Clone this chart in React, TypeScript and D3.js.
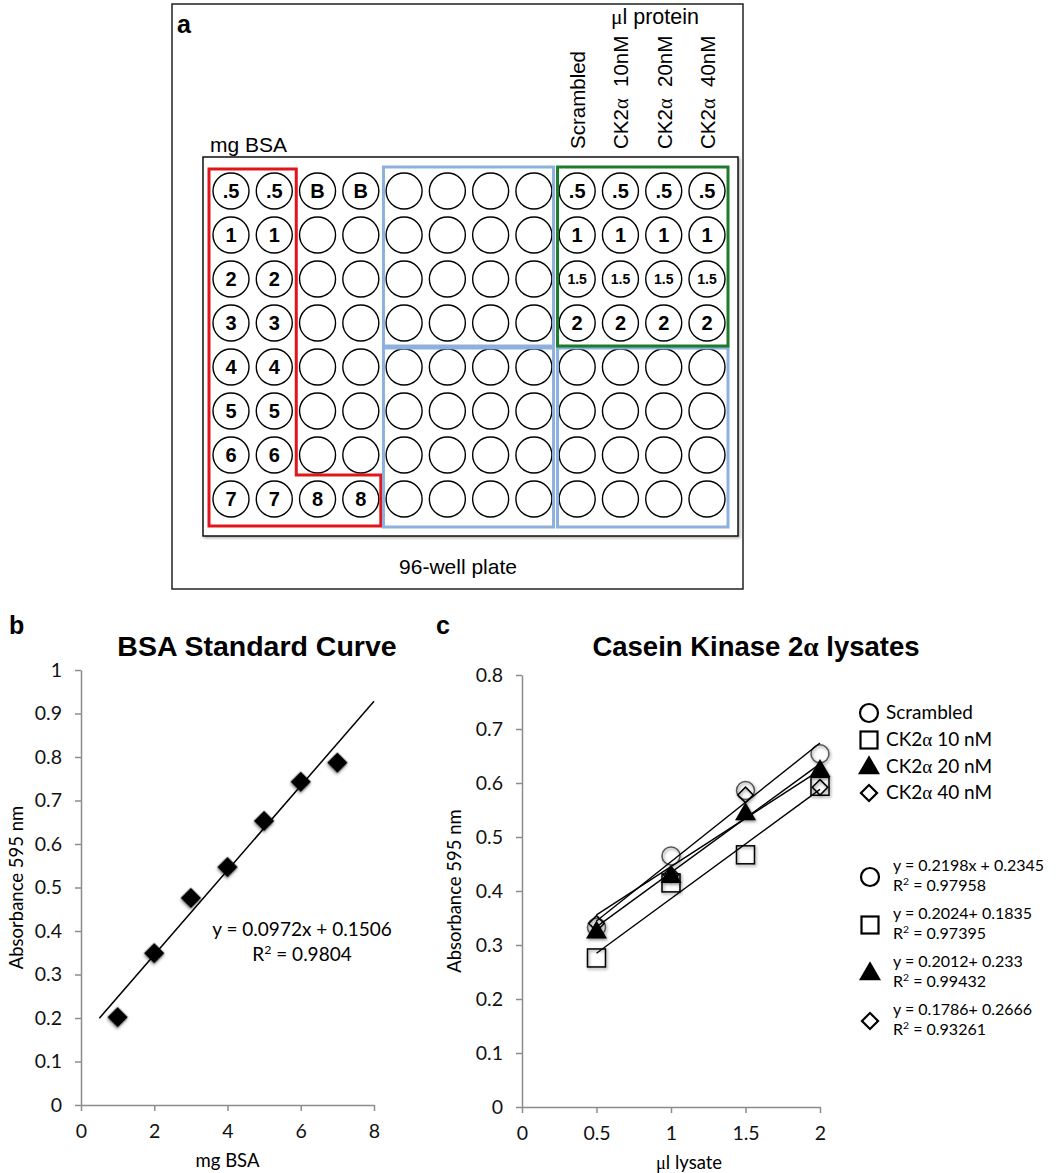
import { useEffect, useRef } from "react";
import * as d3 from "d3";

const W = 1059;
const H = 1173;
const ARIAL = "'Liberation Sans', Arial, sans-serif";
const CALIBRI = "Lato, 'Open Sans', sans-serif";
const SERIF = "'Liberation Serif', 'DejaVu Serif', serif";

// panel a: 96-well plate layout
const plateRows = 8;
const plateCols = 12;
const bsaWellLabels = [".5", "1", "2", "3", "4", "5", "6", "7"];
const blankWellLabels = ["B", "", "", "", "", "", "", "8"];
const sampleWellLabels = [".5", "1", "1.5", "2"];
const sampleHeaders = ["Scrambled", "CK2α  10nM", "CK2α  20nM", "CK2α  40nM"];

// panel b: BSA standard curve
const bsaMg = [1, 2, 3, 4, 5, 6, 7];
const bsaAbs = [0.202, 0.349, 0.476, 0.547, 0.653, 0.743, 0.787];
const bsaFitSlope = 0.0972;
const bsaFitIntercept = 0.1506;
const bsaFitR2 = "0.9804";
const bsaFitRange = [0.5, 8];
const bsaXTicks = [0, 2, 4, 6, 8];

// panel c: CK2a lysates
const lysateUl = [0.5, 1, 1.5, 2];
const scrambledAbs = [0.333, 0.465, 0.586, 0.654];
const ck10Abs = [0.276, 0.415, 0.467, 0.594];
const ck20Abs = [0.325, 0.428, 0.544, 0.624];
const ck40Abs = [0.34, 0.43, 0.578, 0.592];
const lysateSeries = [scrambledAbs, ck10Abs, ck20Abs, ck40Abs];
const seriesNames = ["Scrambled", "CK2α 10 nM", "CK2α 20 nM", "CK2α 40 nM"];
const fitSlopes = [0.2198, 0.2024, 0.2012, 0.1786];
const fitIntercepts = [0.2345, 0.1835, 0.233, 0.2666];
const fitEquations = ["y = 0.2198x + 0.2345", "y = 0.2024+ 0.1835", "y = 0.2012+ 0.233", "y = 0.1786+ 0.2666"];
const fitR2 = ["0.97958", "0.97395", "0.99432", "0.93261"];
const lysateXTicks = [0, 0.5, 1, 1.5, 2];

// writes a string, putting greek letters in a serif face like the original
function richText(sel: any, str: string) {
  sel.style("white-space", "pre");
  str.split(/([αμ])/).forEach((part) => {
    if (!part) return;
    const t = sel.append("tspan").text(part);
    if (part === "α" || part === "μ") t.attr("font-family", SERIF);
  });
  return sel;
}

// "R2 = value" with a raised 2
function r2Text(sel: any, value: string, size: number) {
  sel.append("tspan").text("R");
  sel.append("tspan").attr("dy", -size * 0.38).attr("font-size", size * 0.65).text("2");
  sel.append("tspan").attr("dy", size * 0.38).text(` = ${value}`);
  return sel;
}

function styleAxis(g: any) {
  g.selectAll("path.domain").attr("stroke", "#8c8c8c").attr("stroke-width", 1.5);
  g.selectAll(".tick line").attr("stroke", "#8c8c8c").attr("stroke-width", 1.5);
  g.selectAll(".tick text").attr("fill", "#111").attr("font-family", CALIBRI).attr("font-size", 19.5);
  g.attr("font-family", CALIBRI);
}

// marker shapes, centred on px,py
function addMarker(g: any, kind: number, px: number, py: number, legend = false) {
  const sw = legend ? 2.2 : 1.5;
  if (kind === 0) {
    g.append("circle").attr("cx", px).attr("cy", py).attr("r", 9)
      .attr("fill", "none").attr("stroke", legend ? "#000" : "#555").attr("stroke-width", sw);
  } else if (kind === 1) {
    const s = legend ? 17 : 18;
    g.append("rect").attr("x", px - s / 2).attr("y", py - s / 2).attr("width", s).attr("height", s)
      .attr("fill", "none").attr("stroke", "#000").attr("stroke-width", sw);
  } else if (kind === 2) {
    g.append("path").attr("d", d3.symbol().type(d3.symbolTriangle).size(legend ? 210 : 190)())
      .attr("transform", `translate(${px},${py + 1})`).attr("fill", "#000");
  } else {
    g.append("path").attr("d", d3.symbol().type(d3.symbolSquare).size(legend ? 130 : 120)())
      .attr("transform", `translate(${px},${py}) rotate(45)`)
      .attr("fill", "none").attr("stroke", "#000").attr("stroke-width", sw);
  }
}

function drawPlate(svg: any) {
  const g = svg.append("g");
  g.append("rect").attr("x", 172).attr("y", 4).attr("width", 571).attr("height", 585)
    .attr("fill", "none").attr("stroke", "#222").attr("stroke-width", 1.5);
  g.append("text").attr("x", 177).attr("y", 33).attr("font-family", ARIAL)
    .attr("font-weight", "bold").attr("font-size", 25).text("a");

  const col = d3.scaleLinear().domain([0, plateCols - 1]).range([231, 707]);
  const row = d3.scaleLinear().domain([0, plateRows - 1]).range([191, 499]);
  const last = plateCols - 1;
  const lastRow = plateRows - 1;

  // plate outline
  g.append("rect")
    .attr("x", col(0) - 28).attr("y", row(0) - 34)
    .attr("width", col(last) + 31 - (col(0) - 28))
    .attr("height", row(lastRow) + 37 - (row(0) - 34))
    .attr("fill", "#fff").attr("stroke", "#111").attr("stroke-width", 1.5)
    .attr("filter", "url(#soft)");

  // wells
  for (let r = 0; r < plateRows; r++) {
    for (let c = 0; c < plateCols; c++) {
      g.append("circle").attr("cx", col(c)).attr("cy", row(r)).attr("r", 18)
        .attr("fill", "#fff").attr("stroke", "#000").attr("stroke-width", 1.4);
      let label = "";
      if (c < 2) label = bsaWellLabels[r];
      else if (c < 4) label = blankWellLabels[r];
      else if (c >= 8 && r < sampleWellLabels.length) label = sampleWellLabels[r];
      if (label) {
        g.append("text").attr("x", col(c)).attr("y", row(r)).attr("dy", "0.36em")
          .attr("text-anchor", "middle").attr("font-family", ARIAL).attr("font-weight", "bold")
          .attr("font-size", label.length > 2 ? 14 : 20).text(label);
      }
    }
  }

  const midX = (a: number) => (col(a) + col(a + 1)) / 2;
  const boxes = g.append("g").attr("fill", "none").attr("stroke-width", 3);

  // BSA standards (red, stepped outline)
  const top = row(0) - 22;
  const bottom = row(lastRow) + 27;
  const step = row(6) + 20;
  const redPts: [number, number][] = [
    [col(0) - 22, top], [col(1) + 22, top], [col(1) + 22, step],
    [col(3) + 20, step], [col(3) + 20, bottom], [col(0) - 22, bottom],
  ];
  boxes.append("path").attr("d", d3.line()(redPts) + "Z").attr("stroke", "#e3151c");

  // empty wells (blue) and samples (green)
  const bTop = row(0) - 24;
  const bBottom = row(lastRow) + 28;
  const splitA = row(3) + 23;
  const splitB = row(4) - 19;
  const blue = "#8db1dc";
  boxes.append("rect").attr("x", midX(3) + 1).attr("y", bTop)
    .attr("width", midX(7) - 2 - midX(3) - 1).attr("height", splitA - bTop).attr("stroke", blue);
  boxes.append("rect").attr("x", midX(3) + 1).attr("y", splitB)
    .attr("width", midX(7) - 2 - midX(3) - 1).attr("height", bBottom - splitB).attr("stroke", blue);
  boxes.append("rect").attr("x", midX(7) + 2).attr("y", splitB)
    .attr("width", col(last) + 21 - midX(7) - 2).attr("height", bBottom - splitB).attr("stroke", blue);
  boxes.append("rect").attr("x", midX(7) + 2).attr("y", bTop)
    .attr("width", col(last) + 21 - midX(7) - 2).attr("height", splitA - bTop).attr("stroke", "#1e7b2b");

  // column headers
  sampleHeaders.forEach((h, i) => {
    const t = g.append("text")
      .attr("transform", `translate(${col(8 + i) + 8},149) rotate(-90)`)
      .attr("font-family", ARIAL).attr("font-size", 20.5);
    richText(t, h);
  });
  richText(g.append("text").attr("x", 699).attr("y", 24).attr("text-anchor", "end")
    .attr("font-family", ARIAL).attr("font-size", 21.5), "μl protein");
  g.append("text").attr("x", 210).attr("y", 152).attr("font-family", ARIAL).attr("font-size", 21).text("mg BSA");
  g.append("text").attr("x", 458).attr("y", 574).attr("text-anchor", "middle")
    .attr("font-family", ARIAL).attr("font-size", 21).text("96-well plate");
}

function drawBsa(svg: any) {
  const g = svg.append("g");
  const x = d3.scaleLinear().domain([0, 8]).range([81, 374]);
  const y = d3.scaleLinear().domain([0, 1]).range([1105, 670]);

  g.append("text").attr("x", 9).attr("y", 634).attr("font-family", ARIAL)
    .attr("font-weight", "bold").attr("font-size", 25).text("b");
  g.append("text").attr("x", 257).attr("y", 656).attr("text-anchor", "middle")
    .attr("font-family", ARIAL).attr("font-weight", "bold").attr("font-size", 28.5).text("BSA Standard Curve");

  const xa = g.append("g").attr("transform", `translate(0,${y(0)})`)
    .call(d3.axisBottom(x).tickValues(bsaXTicks).tickSize(6).tickSizeOuter(0).tickPadding(13).tickFormat(d3.format("~g")));
  styleAxis(xa);
  const ya = g.append("g").attr("transform", `translate(${x(0)},0)`)
    .call(d3.axisLeft(y).ticks(10).tickSize(6).tickSizeOuter(0).tickPadding(13).tickFormat(d3.format("~g")));
  styleAxis(ya);

  g.append("text").attr("x", (x(0) + x(8)) / 2).attr("y", 1167).attr("text-anchor", "middle")
    .attr("font-family", CALIBRI).attr("font-size", 18.5).text("mg BSA");
  g.append("text").attr("transform", `translate(23,${(y(0) + y(1)) / 2}) rotate(-90)`)
    .attr("text-anchor", "middle").attr("font-family", CALIBRI).attr("font-size", 18.5).text("Absorbance 595 nm");

  const pts = bsaMg.map((m, i) => [m, bsaAbs[i]]);
  g.selectAll("path.pt").data(pts).enter().append("path")
    .attr("class", "pt")
    .attr("d", d3.symbol().type(d3.symbolSquare).size(210)())
    .attr("transform", (d: number[]) => `translate(${x(d[0])},${y(d[1])}) rotate(45)`)
    .attr("fill", "#000").attr("filter", "url(#shadow)");

  const fit = bsaFitRange.map((v) => [v, bsaFitSlope * v + bsaFitIntercept]);
  g.append("path").datum(fit)
    .attr("d", d3.line().x((d: number[]) => x(d[0])).y((d: number[]) => y(d[1])))
    .attr("fill", "none").attr("stroke", "#000").attr("stroke-width", 1.5);

  g.append("text").attr("x", 302).attr("y", 936).attr("text-anchor", "middle")
    .attr("font-family", CALIBRI).attr("font-size", 19).text(`y = ${bsaFitSlope}x + ${bsaFitIntercept}`);
  r2Text(g.append("text").attr("x", 302).attr("y", 961).attr("text-anchor", "middle")
    .attr("font-family", CALIBRI).attr("font-size", 19), bsaFitR2, 19);
}

function drawLysate(svg: any) {
  const g = svg.append("g");
  const x = d3.scaleLinear().domain([0, 2]).range([522, 820]);
  const y = d3.scaleLinear().domain([0, 0.8]).range([1107, 675]);

  g.append("text").attr("x", 436).attr("y", 634).attr("font-family", ARIAL)
    .attr("font-weight", "bold").attr("font-size", 25).text("c");
  richText(g.append("text").attr("x", 756).attr("y", 656).attr("text-anchor", "middle")
    .attr("font-family", ARIAL).attr("font-weight", "bold").attr("font-size", 27.5), "Casein Kinase 2α lysates");

  const xa = g.append("g").attr("transform", `translate(0,${y(0)})`)
    .call(d3.axisBottom(x).tickValues(lysateXTicks).tickSize(6).tickSizeOuter(0).tickPadding(13).tickFormat(d3.format("~g")));
  styleAxis(xa);
  const ya = g.append("g").attr("transform", `translate(${x(0)},0)`)
    .call(d3.axisLeft(y).ticks(8).tickSize(6).tickSizeOuter(0).tickPadding(13).tickFormat(d3.format("~g")));
  styleAxis(ya);

  richText(g.append("text").attr("x", 689).attr("y", 1169).attr("text-anchor", "middle")
    .attr("font-family", CALIBRI).attr("font-size", 18.5), "μl lysate");
  g.append("text").attr("transform", `translate(461,${(y(0) + y(0.8)) / 2}) rotate(-90)`)
    .attr("text-anchor", "middle").attr("font-family", CALIBRI).attr("font-size", 18.5).text("Absorbance 595 nm");

  // points
  const marks = g.append("g").attr("filter", "url(#shadow)");
  lysateSeries.forEach((vals, k) => {
    vals.forEach((v, i) => addMarker(marks, k, x(lysateUl[i]), y(v)));
  });

  // linear fits from the printed equations
  fitSlopes.forEach((m, k) => {
    const seg = [lysateUl[0], lysateUl[lysateUl.length - 1]].map((v) => [v, m * v + fitIntercepts[k]]);
    g.append("path").datum(seg)
      .attr("d", d3.line().x((d: number[]) => x(d[0])).y((d: number[]) => y(d[1])))
      .attr("fill", "none").attr("stroke", "#000").attr("stroke-width", 1.4);
  });

  // legend
  const legY = [713, 740, 767, 793];
  seriesNames.forEach((name, k) => {
    addMarker(g, k, 869, legY[k], true);
    richText(g.append("text").attr("x", 886).attr("y", legY[k] + 6)
      .attr("font-family", CALIBRI).attr("font-size", 19), name);
  });

  // fit equations
  const eqY = [868, 916, 964, 1012];
  fitEquations.forEach((eq, k) => {
    addMarker(g, k, 870, eqY[k] + 9, true);
    g.append("text").attr("x", 893).attr("y", eqY[k] + 3)
      .attr("font-family", CALIBRI).attr("font-size", 16).text(eq);
    r2Text(g.append("text").attr("x", 893).attr("y", eqY[k] + 23)
      .attr("font-family", CALIBRI).attr("font-size", 16), fitR2[k], 16);
  });
}

export default function App() {
  const svgRef = useRef<SVGSVGElement>(null);

  useEffect(() => {
    const svg = d3.select(svgRef.current);
    svg.selectAll("*").remove();

    const defs = svg.append("defs");
    const sh = defs.append("filter").attr("id", "shadow")
      .attr("x", "-50%").attr("y", "-50%").attr("width", "200%").attr("height", "200%");
    sh.append("feDropShadow").attr("dx", 1).attr("dy", 1.5).attr("stdDeviation", 1.4)
      .attr("flood-color", "#000").attr("flood-opacity", 0.45);
    const soft = defs.append("filter").attr("id", "soft")
      .attr("x", "-5%").attr("y", "-5%").attr("width", "110%").attr("height", "110%");
    soft.append("feDropShadow").attr("dx", 1.5).attr("dy", 1.5).attr("stdDeviation", 1)
      .attr("flood-color", "#000").attr("flood-opacity", 0.3);

    drawPlate(svg);
    drawBsa(svg);
    drawLysate(svg);
  }, []);

  return (
    <svg
      ref={svgRef}
      width={W}
      height={H}
      style={{ position: "absolute", left: 0, top: 0, background: "#fff" }}
    />
  );
}
